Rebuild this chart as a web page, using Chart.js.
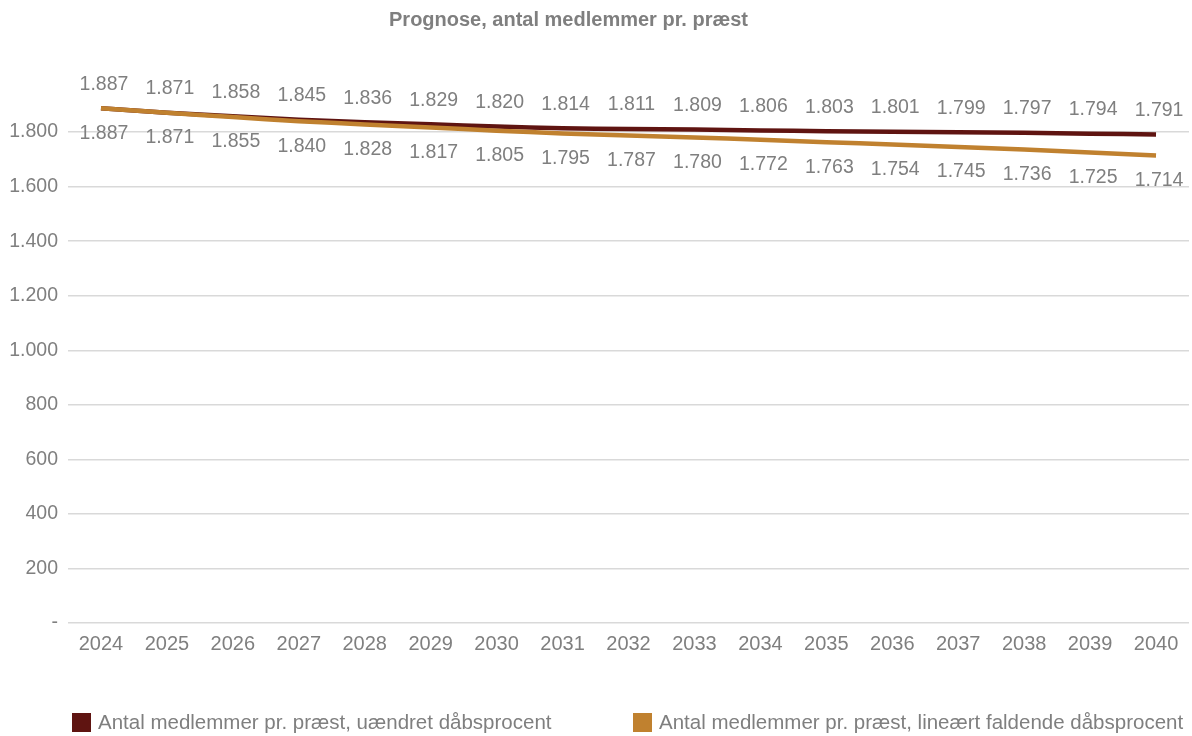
<!DOCTYPE html>
<html lang="da">
<head>
<meta charset="utf-8">
<title>Prognose, antal medlemmer pr. præst</title>
<script src="https://cdn.jsdelivr.net/npm/chart.js@4.4.1/dist/chart.umd.min.js"></script>
<style>
  html, body { margin: 0; padding: 0; background: #ffffff; }
  #wrap { position: relative; width: 1192px; height: 736px; }
  #chart { display: block; }
  #legend { position: absolute; left: 0; top: 710px; width: 1192px; height: 26px;
            font-family: "Liberation Sans", Arial, sans-serif; font-size: 20.5px; color: #7f7f7f; }
  .item { position: absolute; top: 0; display: flex; align-items: center; white-space: nowrap; }
  .swatch { width: 19px; height: 19px; margin-right: 7px; }
</style>
</head>
<body>
<div id="wrap">
  <canvas id="chart" width="1192" height="736"></canvas>
  <div id="legend"></div>
</div>
<script>
// Years on the category axis
const years = ['2024', '2025', '2026', '2027', '2028', '2029', '2030', '2031', '2032',
               '2033', '2034', '2035', '2036', '2037', '2038', '2039', '2040'];

// Members per priest, unchanged baptism rate
const uaendretDaab = [1887, 1871, 1858, 1845, 1836, 1829, 1820, 1814, 1811,
                      1809, 1806, 1803, 1801, 1799, 1797, 1794, 1791];

// Members per priest, linearly falling baptism rate
const faldendeDaab = [1887, 1871, 1855, 1840, 1828, 1817, 1805, 1795, 1787,
                      1780, 1772, 1763, 1754, 1745, 1736, 1725, 1714];

const seriesNames = ['Antal medlemmer pr. præst, uændret dåbsprocent',
                     'Antal medlemmer pr. præst, lineært faldende dåbsprocent'];
const seriesColors = ['#5f1411', '#c0812f'];

const yMin = 0, yMax = 2000, yStep = 200;
const textGrey = '#7f7f7f';
const fontFamily = '"Liberation Sans", Arial, sans-serif';
const numSize = 19.5;

// Danish number format: dot as thousands separator, dash for zero
function daNumber(v) {
  if (v === 0) return '-';
  const s = String(Math.round(v));
  return s.replace(/\B(?=(\d{3})+(?!\d))/g, '.');
}

// Value labels: above the points of the first series, below the second
const valueLabels = {
  id: 'valueLabels',
  afterDatasetsDraw(chart) {
    const ctx = chart.ctx;
    ctx.save();
    ctx.font = numSize + 'px ' + fontFamily;
    ctx.fillStyle = textGrey;
    ctx.textAlign = 'center';
    ctx.textBaseline = 'middle';
    chart.data.datasets.forEach((ds, di) => {
      const meta = chart.getDatasetMeta(di);
      const dy = di === 0 ? -24 : 25;
      meta.data.forEach((pt, i) => {
        ctx.fillText(daNumber(ds.data[i]), pt.x + 3, pt.y + dy);
      });
    });
    ctx.restore();
  }
};

// Title sits a little left of the canvas centre
const titleShift = {
  id: 'titleShift',
  afterLayout(chart) {
    const t = chart.titleBlock;
    if (t) { t.left -= 26; t.right -= 26; }
  }
};

const chart = new Chart(document.getElementById('chart'), {
  type: 'line',
  data: {
    labels: years,
    datasets: [
      { label: seriesNames[0], data: uaendretDaab, borderColor: seriesColors[0],
        backgroundColor: seriesColors[0], borderWidth: 4.5, pointRadius: 0,
        tension: 0.3, order: 1 },
      { label: seriesNames[1], data: faldendeDaab, borderColor: seriesColors[1],
        backgroundColor: seriesColors[1], borderWidth: 4.5, pointRadius: 0,
        tension: 0.3, order: 0 }
    ]
  },
  options: {
    responsive: false,
    animation: false,
    layout: { padding: { top: 0, right: 3, bottom: 79, left: 0 } },
    plugins: {
      legend: { display: false },
      tooltip: { enabled: false },
      title: {
        display: true,
        text: 'Prognose, antal medlemmer pr. præst',
        color: textGrey,
        font: { family: fontFamily, size: 20, weight: 'bold' },
        padding: { top: 8, bottom: 45.5 }
      }
    },
    scales: {
      x: {
        offset: true,
        grid: { display: false },
        border: { display: false },
        ticks: { color: textGrey, font: { family: fontFamily, size: 20 }, padding: 1,
                 maxRotation: 0, autoSkip: false }
      },
      y: {
        min: yMin, max: yMax,
        afterFit(scale) { scale.width = 68; },
        border: { display: false },
        grid: {
          color: ctx => (ctx.tick && ctx.tick.value === yMax) ? 'rgba(0,0,0,0)' : '#d9d9d9',
          lineWidth: 1.5,
          drawTicks: false
        },
        ticks: {
          stepSize: yStep, padding: 10, color: textGrey,
          font: { family: fontFamily, size: numSize },
          callback: v => v === yMax ? '' : daNumber(v)
        }
      }
    }
  },
  plugins: [valueLabels, titleShift]
});

// Legend built from the chart's own datasets
const legendEl = document.getElementById('legend');
const legendLeft = [72, 633];
chart.data.datasets.forEach((ds, i) => {
  const item = document.createElement('div');
  item.className = 'item';
  item.style.left = legendLeft[i] + 'px';
  const sw = document.createElement('span');
  sw.className = 'swatch';
  sw.style.background = ds.borderColor;
  const tx = document.createElement('span');
  tx.textContent = ds.label;
  item.appendChild(sw);
  item.appendChild(tx);
  legendEl.appendChild(item);
});
</script>
</body>
</html>
